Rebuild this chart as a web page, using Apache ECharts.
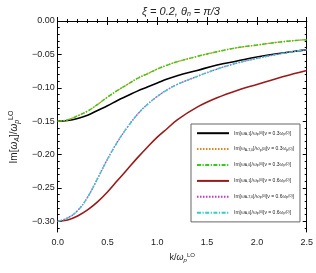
<!DOCTYPE html>
<html><head><meta charset="utf-8">
<script src="https://cdn.jsdelivr.net/npm/echarts@6/dist/echarts.min.js"></script>
<style>html,body{margin:0;padding:0;background:#fff}#c{width:316px;height:273px}</style>
</head><body><div id="c"></div>
<script>
const kValues = [0, 0.1, 0.2, 0.3, 0.4, 0.5, 0.6, 0.7, 0.8, 0.9, 1.0, 1.1, 1.2, 1.4, 1.6, 1.8, 2.0, 2.2, 2.4, 2.5];
const blackNu03 = [-0.150, -0.149, -0.146, -0.141, -0.134, -0.127, -0.119, -0.112, -0.105, -0.099, -0.093, -0.087, -0.082, -0.074, -0.066, -0.060, -0.054, -0.049, -0.045, -0.043];
const orangeNu03 = [-0.150, -0.148, -0.142, -0.135, -0.125, -0.114, -0.104, -0.095, -0.086, -0.079, -0.072, -0.066, -0.061, -0.053, -0.046, -0.040, -0.036, -0.032, -0.029, -0.028];
const greenNu03 = [-0.150, -0.148, -0.142, -0.135, -0.125, -0.114, -0.104, -0.095, -0.086, -0.079, -0.072, -0.066, -0.061, -0.053, -0.046, -0.040, -0.036, -0.032, -0.029, -0.028];
const redNu06 = [-0.300, -0.298, -0.292, -0.283, -0.271, -0.256, -0.239, -0.222, -0.205, -0.189, -0.174, -0.161, -0.148, -0.129, -0.115, -0.104, -0.095, -0.086, -0.078, -0.074];
const magentaNu06 = [-0.300, -0.295, -0.284, -0.264, -0.236, -0.207, -0.181, -0.159, -0.140, -0.125, -0.113, -0.103, -0.095, -0.083, -0.072, -0.063, -0.056, -0.050, -0.045, -0.043];
const cyanNu06 = [-0.300, -0.295, -0.284, -0.264, -0.236, -0.207, -0.181, -0.159, -0.140, -0.125, -0.113, -0.103, -0.095, -0.083, -0.072, -0.063, -0.056, -0.050, -0.045, -0.043];
const xTicks = [0, 0.5, 1.0, 1.5, 2.0, 2.5];
const yTicks = [-0.30, -0.25, -0.20, -0.15, -0.10, -0.05, 0.00];
const seriesNames = ['s1', 's2', 's3', 's4', 's5', 's6'];
const legendLabels = {
  s1: ['A,1', '0.3'], s2: ['A-T,0', '0.3'], s3: ['A,0', '0.3'],
  s4: ['A,1', '0.6'], s5: ['A-T,0', '0.6'], s6: ['A,0', '0.6']
};

const FONT = 'Liberation Sans, Arial, sans-serif';
const yMinor = [];
for (let i = -31; i <= 0; i++) { if (i % 5 !== 0) yMinor.push(i / 100); }

function pairs(arr) { return kValues.map((k, i) => [k, arr[i]]); }

const chart = echarts.init(document.getElementById('c'), null, {renderer: 'canvas'});
const baseX = {
  type: 'value', min: 0, max: 2.5, interval: 0.5,
  axisLine: {show: true, lineStyle: {color: '#000', width: 1}},
  axisTick: {show: true, inside: true, length: 4, lineStyle: {color: '#000'}},
  minorTick: {show: true, splitNumber: 5, length: 2, lineStyle: {color: '#000'}},
  splitLine: {show: false}, minorSplitLine: {show: false}
};
const yMin = -0.316, yMax = 0.0015;
function yAxis(pos, major, showLabel, name) {
  return {
    type: 'value', position: pos, min: yMin, max: yMax,
    axisLine: {show: major, onZero: false, lineStyle: {color: '#000', width: 1}},
    axisTick: {show: true, inside: true, length: major ? 4 : 2, customValues: major ? yTicks : yMinor, lineStyle: {color: '#000'}},
    axisLabel: showLabel ? {show: true, customValues: yTicks, margin: 3, fontSize: 9, fontFamily: FONT, color: '#222',
      formatter: v => (v < 0 ? '\u2212' : '') + Math.abs(v).toFixed(2)} : {show: false},
    splitLine: {show: false},
    name: name || '', nameLocation: 'middle', nameGap: 36,
    nameTextStyle: {fontFamily: FONT, fontSize: 10, color: '#222', padding: [0, 22, 0, 0],
      rich: {n: {fontSize: 10, fontFamily: FONT, color: '#222'},
             i: {fontSize: 10, fontFamily: FONT, fontStyle: 'italic', color: '#222'},
             s: {fontSize: 7, fontFamily: FONT, fontStyle: 'italic', color: '#222', verticalAlign: 'bottom', padding: [6, 0, 0, 0]},
             u: {fontSize: 7, fontFamily: FONT, color: '#222', verticalAlign: 'top', padding: [0, 0, 5, 0]}}}
  };
}

const option = {
  animation: false,
  backgroundColor: '#fff',
  title: {
    text: '{i|\u03be = 0.2, \u03b8}{s|n}{i| = \u03c0/3}', left: 176, top: 1, textAlign: 'center',
    textStyle: {fontFamily: FONT, fontSize: 11, fontWeight: 'normal', color: '#222',
      rich: {i: {fontSize: 11, fontStyle: 'italic', fontFamily: FONT, color: '#222'},
             s: {fontSize: 7, fontStyle: 'italic', fontFamily: FONT, color: '#222', verticalAlign: 'bottom', padding: [5, 0, 0, 0]}}}
  },
  grid: {left: 45, right: 8, top: 20, bottom: 41},
  xAxis: [
    Object.assign({}, baseX, {position: 'bottom',
      axisLabel: {show: true, margin: 6, fontSize: 9, fontFamily: FONT, color: '#222', formatter: v => v.toFixed(1)},
      name: '{n|k/}{i|\u03c9}{s|p}{u|LO}', nameLocation: 'middle', nameGap: 17,
      nameTextStyle: {fontFamily: FONT, fontSize: 9, color: '#222',
        rich: {n: {fontSize: 9, fontFamily: FONT, color: '#222'},
               i: {fontSize: 9, fontFamily: FONT, fontStyle: 'italic', color: '#222'},
               s: {fontSize: 6, fontFamily: FONT, fontStyle: 'italic', color: '#222', verticalAlign: 'bottom', padding: [5, 0, 0, 0]},
               u: {fontSize: 6, fontFamily: FONT, color: '#222', verticalAlign: 'top', padding: [0, 0, 4, 0]}}}}),
    Object.assign({}, baseX, {position: 'top', axisLabel: {show: false}})
  ],
  yAxis: [
    yAxis('left', true, true, '{n|Im[}{i|\u03c9}{s|A}{n|]/}{i|\u03c9}{s|p}{u|LO}'),
    yAxis('left', false, false),
    yAxis('right', true, false),
    yAxis('right', false, false)
  ],
  legend: {
    orient: 'vertical', left: 191, top: 124,
    data: seriesNames,
    itemWidth: 32, itemHeight: 8, itemGap: 9.5,
    padding: [6, 6, 6, 5],
    itemStyle: {opacity: 0, borderWidth: 0},
    borderColor: '#666', borderWidth: 1, backgroundColor: '#fff',
    formatter: name => {
      const l = legendLabels[name];
      return '{n|Im[\u03c9}{s|' + l[0] + '}{n|]/\u03c9}{s|p}{u|(0)}{n|[\u03bd = ' + l[1] + '\u03c9}{s|p}{u|(0)}{n|]}';
    },
    textStyle: {fontFamily: FONT, fontSize: 5, color: '#222',
      rich: {n: {fontSize: 5, fontFamily: FONT, color: '#222'},
             s: {fontSize: 3.5, fontFamily: FONT, color: '#222', verticalAlign: 'bottom'},
             u: {fontSize: 3.5, fontFamily: FONT, color: '#222', verticalAlign: 'top'}}}
  },
  series: [
    {name: 's1', data: pairs(blackNu03), color: '#000000', lineStyle: {width: 1.6, type: 'solid'}},
    {name: 's2', data: pairs(orangeNu03), color: '#e8841a', lineStyle: {width: 1.4, type: [1.5, 1.5]}},
    {name: 's3', data: pairs(greenNu03), color: '#33cc1a', lineStyle: {width: 1.4, type: [4, 1.5, 1.2, 1.5]}},
    {name: 's4', data: pairs(redNu06), color: '#9a1a1a', lineStyle: {width: 1.6, type: 'solid'}},
    {name: 's5', data: pairs(magentaNu06), color: '#cc33cc', lineStyle: {width: 1.4, type: [1.5, 1.5]}},
    {name: 's6', data: pairs(cyanNu06), color: '#33cccc', lineStyle: {width: 1.4, type: [4, 1.5, 1.2, 1.5]}}
  ].map(s => Object.assign({type: 'line', smooth: 0.4, symbol: 'none', showSymbol: false, xAxisIndex: 0, yAxisIndex: 0}, s))
};
chart.setOption(option);
</script>
</body></html>
